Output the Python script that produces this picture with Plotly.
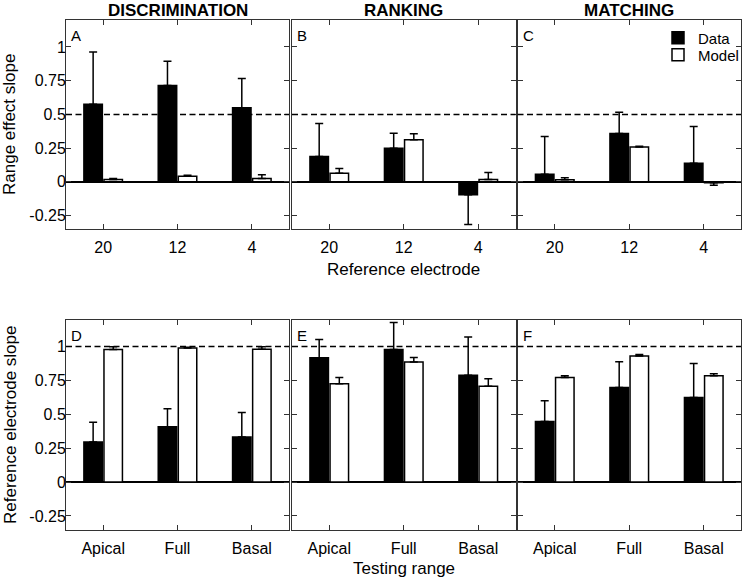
import plotly.graph_objects as go

W, H = 745, 581

# ---------------- data ----------------
electrodes = ["20", "12", "4"]
ranges = ["Apical", "Full", "Basal"]
titles = ["DISCRIMINATION", "RANKING", "MATCHING"]
letters = ["A", "B", "C", "D", "E", "F"]

a_data = [0.575, 0.715, 0.55]
a_data_err = [0.388, 0.179, 0.217]
a_model = [0.017, 0.041, 0.024]
a_model_err = [0.007, 0.008, 0.028]

b_data = [0.187, 0.248, -0.096]
b_data_err = [0.245, 0.113, 0.221]
b_model = [0.063, 0.312, 0.017]
b_model_err = [0.035, 0.044, 0.052]

c_data = [0.056, 0.358, 0.137]
c_data_err = [0.28, 0.158, 0.273]
c_model = [0.015, 0.258, -0.007]
c_model_err = [0.015, 0.005, 0.018]

d_data = [0.295, 0.408, 0.332]
d_data_err = [0.147, 0.133, 0.181]
d_model = [0.978, 0.99, 0.981]
d_model_err = [0.02, 0.006, 0.017]

e_data = [0.917, 0.978, 0.789]
e_data_err = [0.135, 0.2, 0.282]
e_model = [0.725, 0.886, 0.708]
e_model_err = [0.046, 0.033, 0.054]

f_data = [0.447, 0.698, 0.624]
f_data_err = [0.153, 0.191, 0.251]
f_model = [0.771, 0.931, 0.784]
f_model_err = [0.013, 0.01, 0.015]

ref_lines = [0.5, 0.5, 0.5, 1.0, 1.0, 1.0]
yticks = [-0.25, 0, 0.25, 0.5, 0.75, 1]
ytick_text = ["-0.25", "0", "0.25", "0.5", "0.75", "1"]

panels = [
    (electrodes, a_data, a_data_err, a_model, a_model_err),
    (electrodes, b_data, b_data_err, b_model, b_model_err),
    (electrodes, c_data, c_data_err, c_model, c_model_err),
    (ranges, d_data, d_data_err, d_model, d_model_err),
    (ranges, e_data, e_data_err, e_model, e_model_err),
    (ranges, f_data, f_data_err, f_model, f_model_err),
]

# ---------------- layout geometry (page pixels) ----------------
col_px = [(66, 289), (292, 515.5), (517.5, 741)]
row_px = [(20, 229), (319.5, 529.5)]


def px(x):
    return x / W


def py(y):
    return 1 - y / H


FONT = "Liberation Sans, Arial, sans-serif"
AX = "#333333"
DASH = "6px,3.5px"

fig = go.Figure()


def err_parts(vals, errs):
    up = [e if v >= 0 else 0 for v, e in zip(vals, errs)]
    dn = [0 if v >= 0 else e for v, e in zip(vals, errs)]
    return up, dn


layout = dict(
    width=W, height=H,
    margin=dict(l=0, r=0, t=0, b=0, autoexpand=False),
    paper_bgcolor="white", plot_bgcolor="white",
    barmode="group", bargap=0.46, bargroupgap=0.08,
    font=dict(family=FONT, size=16, color="black"),
    showlegend=True,
    legend=dict(x=px(658), y=py(38), xanchor="left", yanchor="middle",
                bgcolor="rgba(0,0,0,0)", font=dict(size=15, family=FONT),
                itemwidth=30),
    legend2=dict(x=px(658), y=py(55), xanchor="left", yanchor="middle",
                 bgcolor="rgba(0,0,0,0)", font=dict(size=15, family=FONT),
                 itemwidth=30),
)

shapes = []
annotations = []

for i, (cats, dv, de, mv, me) in enumerate(panels):
    r, c = divmod(i, 3)
    n = i + 1
    xa = "x" if n == 1 else f"x{n}"
    ya = "y" if n == 1 else f"y{n}"
    up, dn = err_parts(dv, de)
    fig.add_trace(go.Bar(
        x=cats, y=dv, name="Data", xaxis=xa, yaxis=ya,
        marker=dict(color="black", line=dict(color="black", width=1.5)),
        error_y=dict(type="data", array=up, arrayminus=dn, symmetric=False,
                     color="black", thickness=1.5, width=4),
        showlegend=(i == 2), legend="legend",
    ))
    up, dn = err_parts(mv, me)
    fig.add_trace(go.Bar(
        x=cats, y=mv, name="Model", xaxis=xa, yaxis=ya,
        marker=dict(color="white", line=dict(color="black", width=1.5)),
        error_y=dict(type="data", array=up, arrayminus=dn, symmetric=False,
                     color="black", thickness=1.5, width=4),
        showlegend=(i == 2), legend="legend2",
    ))

    x0, x1 = col_px[c]
    t0, t1 = row_px[r]
    xkey = "xaxis" if n == 1 else f"xaxis{n}"
    ykey = "yaxis" if n == 1 else f"yaxis{n}"
    layout[xkey] = dict(
        domain=[px(x0), px(x1)], anchor=ya, type="category",
        range=[-0.5, 2.5], showline=True, linecolor=AX, linewidth=1,
        mirror="ticks", ticks="inside", ticklen=5, tickcolor=AX,
        showgrid=False, zeroline=False, fixedrange=True,
        ticklabelstandoff=4,
        tickfont=dict(size=16, family=FONT, color="black"),
    )
    layout[ykey] = dict(
        domain=[py(t1), py(t0)], anchor=xa,
        range=[-0.35, 1.2], tickvals=yticks, ticktext=ytick_text,
        showline=True, linecolor=AX, linewidth=1, mirror="ticks",
        ticks="inside", ticklen=5, tickcolor=AX, showgrid=False,
        zeroline=True, zerolinecolor="black", zerolinewidth=1.5,
        showticklabels=(c == 0), fixedrange=True,
        ticklabelstandoff=-4,
        tickfont=dict(size=16, family=FONT, color="black"),
    )
    # dashed reference line
    shapes.append(dict(type="line", xref=f"{xa} domain", yref=ya,
                       x0=0, x1=1, y0=ref_lines[i], y1=ref_lines[i],
                       line=dict(color="black", width=1.5, dash=DASH)))
    # panel letter
    annotations.append(dict(text=letters[i], xref=f"{xa} domain",
                            yref=f"{ya} domain", x=0, y=1, xshift=3, yshift=-5,
                            xanchor="left", yanchor="top", showarrow=False,
                            font=dict(size=15, family=FONT, color="black")))

# column titles
for c, t in enumerate(titles):
    x0, x1 = col_px[c]
    annotations.append(dict(text=f"<b>{t}</b>", xref="paper", yref="paper",
                            x=px((x0 + x1) / 2), y=py(10.5),
                            xanchor="center", yanchor="middle", showarrow=False,
                            font=dict(size=17, family=FONT, color="black")))

# axis titles
annotations.append(dict(text="Range effect slope", xref="paper", yref="paper",
                        x=px(10), y=py(125), textangle=-90,
                        xanchor="center", yanchor="middle", showarrow=False,
                        font=dict(size=17, family=FONT, color="black")))
annotations.append(dict(text="Reference electrode slope", xref="paper", yref="paper",
                        x=px(10), y=py(425), textangle=-90,
                        xanchor="center", yanchor="middle", showarrow=False,
                        font=dict(size=17, family=FONT, color="black")))
annotations.append(dict(text="Reference electrode", xref="paper", yref="paper",
                        x=px((col_px[1][0] + col_px[1][1]) / 2), y=py(269),
                        xanchor="center", yanchor="middle", showarrow=False,
                        font=dict(size=17, family=FONT, color="black")))
annotations.append(dict(text="Testing range", xref="paper", yref="paper",
                        x=px((col_px[1][0] + col_px[1][1]) / 2), y=py(568),
                        xanchor="center", yanchor="middle", showarrow=False,
                        font=dict(size=17, family=FONT, color="black")))

layout["shapes"] = shapes
layout["annotations"] = annotations
fig.update_layout(**layout)

# the page body has a default 8px margin; remove it so the figure fills the window
fig.write_html("out.html",
               config={"displayModeBar": False},
               post_script="document.body.style.margin='0px';")
